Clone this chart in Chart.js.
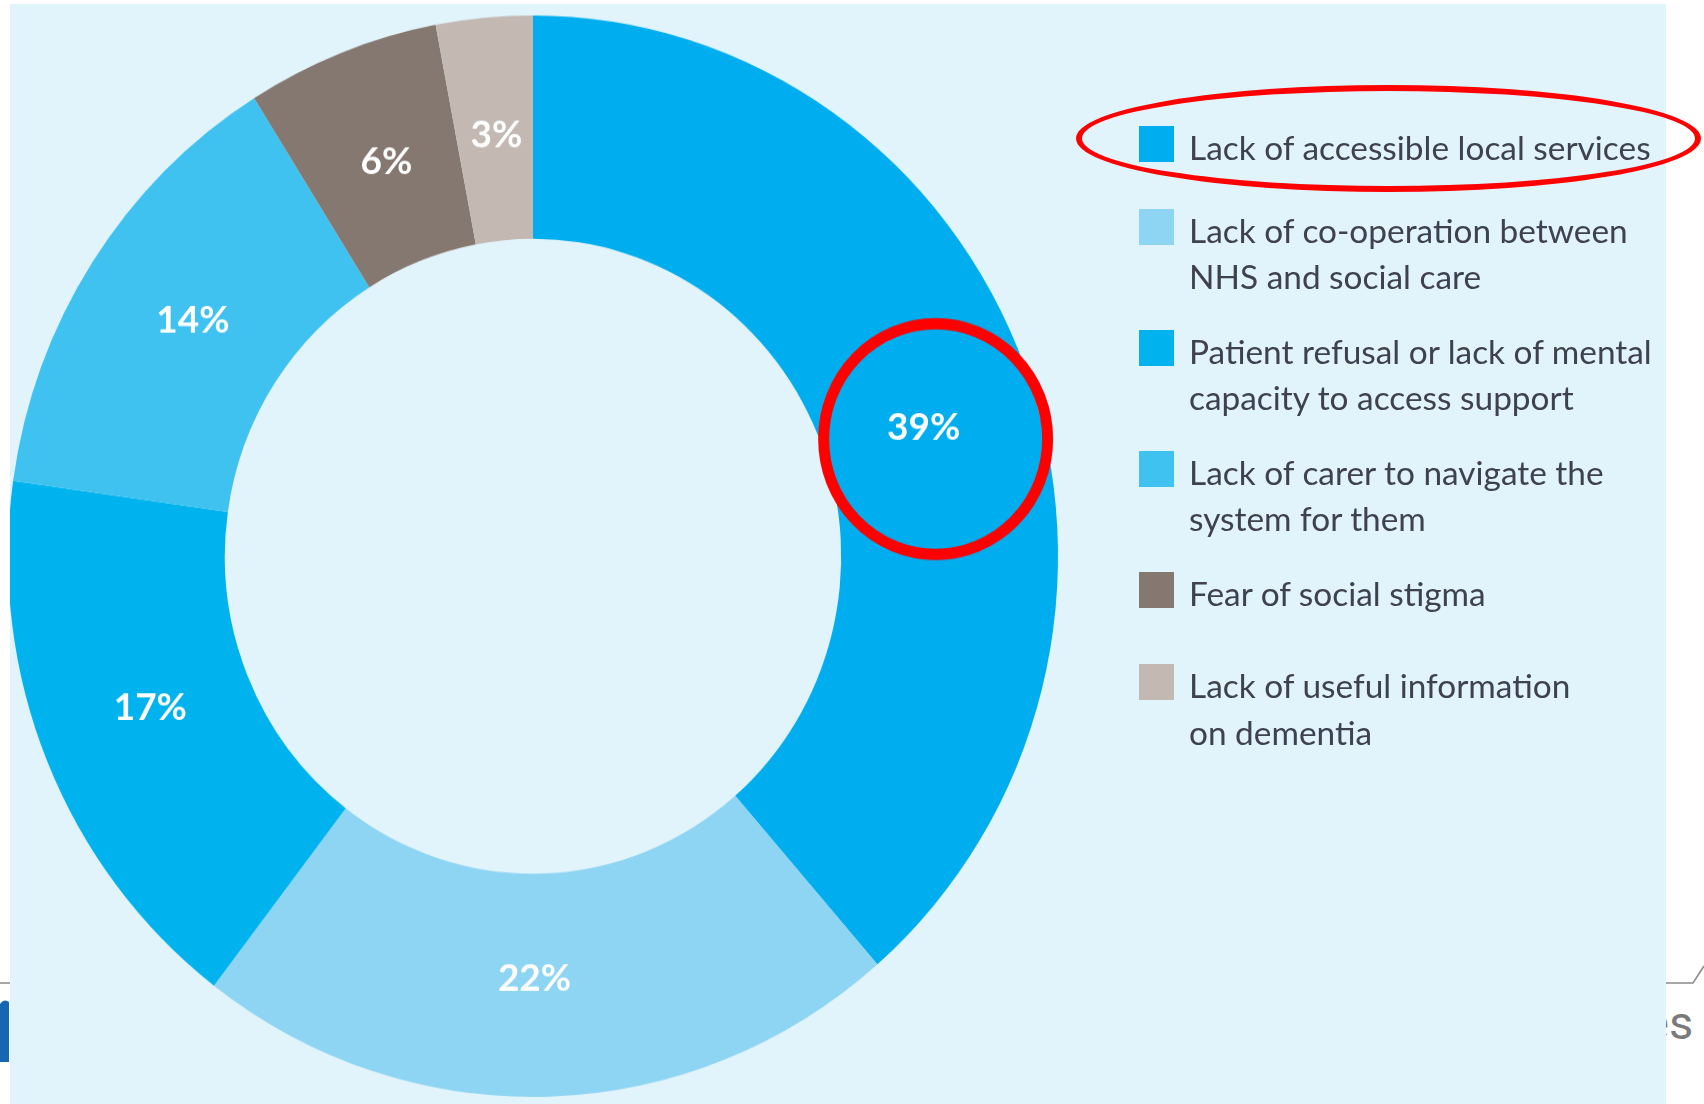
<!DOCTYPE html>
<html>
<head>
<meta charset="utf-8">
<script src="https://cdn.jsdelivr.net/npm/chart.js@4/dist/chart.umd.min.js"></script>
<style>
	html, body { margin: 0; padding: 0; background: #fff; }
	body { width: 1704px; height: 1104px; position: relative; overflow: hidden; font-family: Lato, 'Open Sans', sans-serif; }
	#bg { position: absolute; left: 0; top: 0; }
	#es { position: absolute; left: 1644px; top: 995px; font: 47px Roboto, sans-serif; color: #7a7a7a; }
	#panel { position: absolute; left: 10px; top: 4px; width: 1656px; height: 1100px; background: #E1F3FB; overflow: hidden; }
	#wrap { position: absolute; left: -10px; top: -4px; width: 1704px; height: 1072px; transform: scaleY(1.03); transform-origin: 0 0; }
	#legend { position: absolute; left: 1139px; top: 124px; list-style: none; margin: 0; padding: 0; }
	#legend li { display: flex; align-items: flex-start; margin-top: 28px; }
	#legend li:first-child { margin-top: 0; }
	#legend li:nth-child(2) { margin-top: 36px; }
	#legend li:nth-child(6) { margin-top: 46px; }
	#legend .box { width: 35px; height: 36px; margin-top: 2px; flex: none; }
	#legend .txt { margin-left: 15px; font-size: 33.4px; line-height: 46.5px; color: #3e4250; white-space: nowrap; }
	#ring { position: absolute; left: 1076px; top: 85px; width: 613px; height: 95px; border: 6px solid #f00; border-radius: 50%; }
</style>
</head>
<body>
<svg id="bg" width="1704" height="1104">
	<line x1="0" y1="983" x2="10" y2="983" stroke="#8a8a8a" stroke-width="1.5"/>
	<polyline points="1660,983 1693,983 1704,966" fill="none" stroke="#8a8a8a" stroke-width="1.5"/>
	<path d="M0 1062 L0 1004 Q4 998 9 1002 L9 1062 Z" fill="#1667b2"/>
</svg>
<div id="es">es</div>
<div id="panel">
	<div id="wrap"><canvas id="chart" width="1704" height="1072"></canvas></div>
</div>
<ul id="legend"></ul>
<div id="ring"></div>
<script>
const categories = [
	['Lack of accessible local services'],
	['Lack of co-operation between', 'NHS and social care'],
	['Patient refusal or lack of mental', 'capacity to access support'],
	['Lack of carer to navigate the', 'system for them'],
	['Fear of social stigma'],
	['Lack of useful information', 'on  dementia']
]
const values = [39, 22, 17, 14, 6, 3]
const colors = ['#00ADEE', '#8DD5F3', '#00B3EE', '#3FC2F0', '#857870', '#C3B8B2']
const highlighted = 0

const legend = document.getElementById('legend')
categories.forEach((lines, i) => {
	const li = document.createElement('li')
	li.innerHTML = `<span class="box" style="background:${colors[i]}"></span><span class="txt">${lines.join('<br>')}</span>`
	legend.appendChild(li)
})

// percent labels in the ring, red circle round the highlighted one
const sliceLabels = {
	id: 'sliceLabels',
	afterDatasetsDraw(chart) {
		const ctx = chart.ctx
		const arcs = chart.getDatasetMeta(0).data
		ctx.save()
		ctx.fillStyle = '#fff'
		ctx.font = '700 37px Lato, sans-serif'
		ctx.textAlign = 'center'
		ctx.textBaseline = 'middle'
		arcs.forEach((arc, i) => {
			const p = arc.getProps(['x', 'y', 'startAngle', 'endAngle', 'innerRadius', 'outerRadius'])
			const a = p.startAngle + 0.52 * (p.endAngle - p.startAngle)
			const r = p.innerRadius + 0.47 * (p.outerRadius - p.innerRadius)
			const x = p.x + r * Math.cos(a)
			const y = p.y + r * Math.sin(a)
			ctx.fillText(values[i] + '%', x, y)
			if (i === highlighted) {
				ctx.strokeStyle = '#f00'
				ctx.lineWidth = 11
				ctx.beginPath()
				ctx.arc(x + 12, y + 11, 112, 0, Math.PI * 2)
				ctx.stroke()
			}
		})
		ctx.restore()
	}
}

new Chart(document.getElementById('chart'), {
	type: 'doughnut',
	data: {
		labels: categories.map((l) => l.join(' ')),
		datasets: [{
			data: values,
			backgroundColor: colors,
			borderWidth: 0
		}]
	},
	options: {
		responsive: false,
		animation: false,
		devicePixelRatio: 1,
		cutout: '58.7%',
		layout: { padding: { left: 8, right: 646, top: 15, bottom: 7 } },
		plugins: {
			legend: { display: false },
			tooltip: { enabled: false }
		}
	},
	plugins: [sliceLabels]
})
</script>
</body>
</html>
